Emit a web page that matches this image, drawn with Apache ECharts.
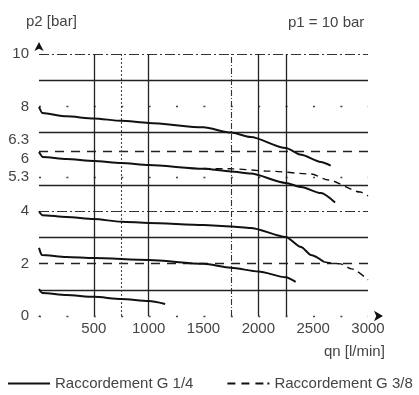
<!DOCTYPE html>
<html><head><meta charset="utf-8">
<script src="https://cdn.jsdelivr.net/npm/echarts@6/dist/echarts.min.js"></script>
<style>html,body{margin:0;padding:0;background:#fff}#c{width:419px;height:395px}</style>
</head><body><div id="c"></div><script>
// ---- data ----
const xTickLabels = [500, 1000, 1500, 2000, 2500, 3000];
const yTickLabels = [0, 2, 4, 5.3, 6, 6.3, 8, 10];
// Raccordement G 1/4 (solid)
const curveA = [[0,7.98],[30,7.75],[250,7.62],[500,7.54],[750,7.45],[1000,7.37],[1500,7.2],[1750,7.0],[1930,6.83],[2250,6.41],[2390,6.15],[2570,5.88],[2660,5.74]];
const curveB = [[0,6.26],[35,6.07],[250,5.99],[500,5.92],[750,5.84],[1000,5.76],[1500,5.62],[1750,5.52],[1930,5.44],[2250,5.08],[2390,4.92],[2570,4.69],[2700,4.33]];
const curveC = [[0,4.0],[30,3.85],[250,3.78],[500,3.7],[750,3.6],[1000,3.55],[1500,3.47],[1750,3.42],[1930,3.36],[2250,3.02],[2390,2.63],[2480,2.33],[2600,2.06]];
const curveD = [[0,2.6],[25,2.33],[250,2.25],[500,2.21],[1000,2.14],[1500,1.99],[1750,1.84],[2000,1.7],[2250,1.48],[2340,1.3]];
const curveE = [[0,1.03],[30,0.88],[250,0.8],[500,0.73],[750,0.65],[1000,0.57],[1150,0.46]];
// Raccordement G 3/8 (dashed)
const curveF = [[1500,5.63],[1750,5.62],[2100,5.53],[2480,5.42],[2640,5.19],[2930,4.73],[3000,4.58]];
const curveG = [[2600,2.06],[2750,1.99],[2850,1.8],[3000,1.38]];
// reference lines
const gridSolidY = [1, 3, 5, 7, 9];
const gridDashedY = [2, 6.3];
const gridDashDotY = [4, 10];
const gridDotRowY = [0, 5.3, 8];
const gridSolidX = [500, 1000, 2000, 2250];
const gridDottedX = [750];
const gridDashDotX = [1750];

const NAME1 = 'Raccordement G 1/4';
const NAME2 = 'Raccordement G 3/8';
const FONT = '"Liberation Sans", Arial, sans-serif';
const TXT = '#444';
const FS = 15;

const chart = echarts.init(document.getElementById('c'), null, {renderer: 'canvas'});

function ml(values, axis, style) {
  return values.map(v => ({[axis]: v, lineStyle: style}));
}
const gridLines = [].concat(
  ml(gridSolidY, 'yAxis', {color: '#222', width: 1.3, type: 'solid'}),
  ml(gridDashedY, 'yAxis', {color: '#222', width: 1.3, type: [9, 7]}),
  ml(gridDashDotY, 'yAxis', {color: '#333', width: 1.1, type: [10, 3, 2, 3]}),
  ml(gridDotRowY, 'yAxis', {color: '#444', width: 1.4, type: [2, 25.4]}),
  ml(gridSolidX, 'xAxis', {color: '#222', width: 1.3, type: 'solid'}),
  ml(gridDottedX, 'xAxis', {color: '#444', width: 1.1, type: [2, 2]}),
  ml(gridDashDotX, 'xAxis', {color: '#333', width: 1.1, type: [6, 2, 1, 2]})
);

function curve(name, data, dashed) {
  return {
    name: name, type: 'line', data: data, smooth: 0.25, smoothMonotone: 'x',
    showSymbol: false, symbol: 'none', silent: true, z: 5,
    lineStyle: {color: '#111', width: dashed ? 1.4 : 2, type: dashed ? [7, 5] : 'solid'},
    itemStyle: {color: '#111'}
  };
}

const tStyle = {fontFamily: FONT, fontSize: FS, fontWeight: 'normal', color: TXT};

chart.setOption({
  animation: false,
  backgroundColor: '#fff',
  textStyle: {fontFamily: FONT},
  title: [
    {text: 'p2 [bar]', left: 26, top: 14, padding: 0, textStyle: tStyle},
    {text: 'p1 = 10 bar', left: 288, top: 15, padding: 0, textStyle: tStyle},
    {text: 'qn [l/min]', left: 324, top: 344, padding: 0, textStyle: tStyle}
  ],
  legend: {
    left: 8, top: 376, width: 411, padding: 0, itemWidth: 42, itemHeight: 2, itemGap: 34,
    textStyle: {fontFamily: FONT, fontSize: FS, color: TXT},
    data: [
      {name: NAME1, icon: 'path://M0,0H42V2H0Z'},
      {name: NAME2, icon: 'path://M0,0H8V2H0Z M14,0H22V2H14Z M28,0H36V2H28Z M40,0H42V2H40Z'}
    ]
  },
  grid: {left: 39, right: 51, top: 54, bottom: 79, containLabel: false},
  xAxis: {
    type: 'value', min: 0, max: 3000,
    axisLine: {show: true, symbol: ['none', 'arrow'], symbolSize: [8, 9], symbolOffset: [0, 15],
      lineStyle: {color: '#111', width: 1, type: [0, 10000]}},
    axisTick: {show: false},
    splitLine: {show: false},
    axisLabel: {customValues: xTickLabels, fontFamily: FONT, fontSize: FS, color: TXT, margin: 5,
      formatter: function (v) { return String(v); }}
  },
  yAxis: {
    type: 'value', min: 0, max: 10,
    axisLine: {show: true, symbol: ['none', 'arrow'], symbolSize: [7, 9], symbolOffset: [0, 12],
      lineStyle: {color: '#111', width: 1, type: [0, 10000]}},
    axisTick: {show: false},
    splitLine: {show: false},
    axisLabel: {
      customValues: yTickLabels, fontFamily: FONT, fontSize: FS, color: TXT, margin: 10,
      formatter: function (v) { return Math.abs(v - 6.3) < 1e-9 ? '{up|' + v + '}' : String(v); },
      rich: {up: {fontFamily: FONT, fontSize: FS, color: TXT, padding: [0, 0, 22, 0]}}
    }
  },
  series: [
    {type: 'line', data: [], silent: true, z: 1,
      markLine: {silent: true, symbol: ['none', 'none'], label: {show: false}, animation: false, data: gridLines}},
    curve(NAME1, curveA), curve(NAME1, curveB), curve(NAME1, curveC), curve(NAME1, curveD), curve(NAME1, curveE),
    curve(NAME2, curveF, true), curve(NAME2, curveG, true)
  ]
});
</script></body></html>
